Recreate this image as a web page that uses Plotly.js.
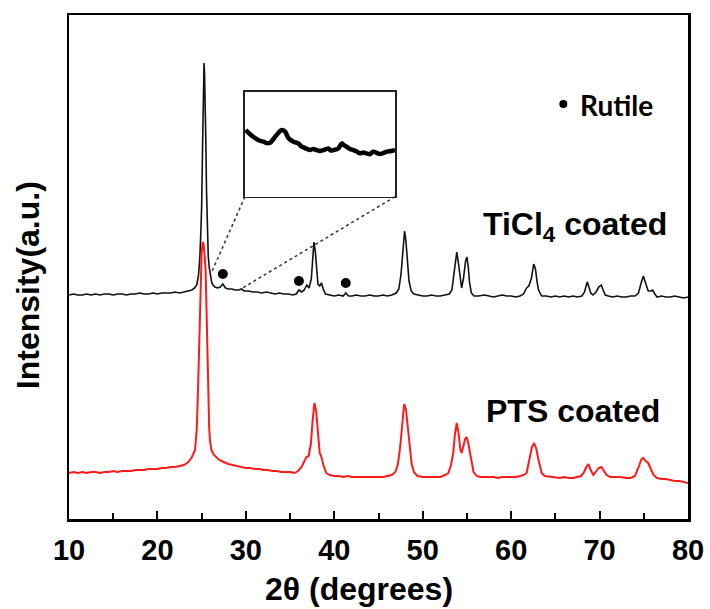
<!DOCTYPE html>
<html>
<head>
<meta charset="utf-8">
<script src="https://cdn.plot.ly/plotly-3.0.1.min.js"></script>
<style>html,body{margin:0;padding:0;background:#fff;}#chart{width:710px;height:609px;}</style>
</head>
<body>
<div id="chart"></div>
<script>
// 2-theta (degrees) and intensity (arbitrary units)
const tiX = [10,10.5,11,11.5,12,12.5,13,13.5,14,14.5,15,15.5,16,16.5,17,17.5,18,18.5,19,19.5,20,20.5,21,21.5,22,22.5,23,23.5,23.9,24.2,24.45,24.65,24.8,24.9,25.0,25.1,25.2,25.27,25.33,25.4,25.48,25.55,25.65,25.75,25.88,26.0,26.15,26.3,26.5,26.8,27.1,27.4,27.7,28.0,28.4,28.8,29.2,29.5,29.8,30.3,30.8,31.3,31.8,32.3,32.8,33.3,33.8,34.3,34.8,35.3,35.7,36.0,36.3,36.6,36.9,37.15,37.4,37.55,37.7,37.85,37.98,38.15,38.35,38.55,38.75,39.0,39.5,40,40.5,41.0,41.3,41.6,42,42.5,43,43.5,44,44.5,45,45.5,46,46.5,47,47.3,47.55,47.75,47.95,48.1,48.25,48.45,48.7,49.0,49.5,50,50.5,51,51.5,52,52.5,53.0,53.3,53.55,53.85,54.05,54.25,54.4,54.6,54.85,55.0,55.15,55.3,55.5,55.8,56.3,57,57.5,58,58.5,59,59.5,60,60.5,61,61.4,61.75,62.0,62.3,62.55,62.75,62.95,63.1,63.45,64,64.5,65,65.5,66,66.5,67,67.5,68,68.3,68.6,68.8,69.0,69.25,69.6,69.9,70.2,70.4,70.65,71,71.5,72,72.5,73,73.5,74,74.4,74.7,74.95,75.2,75.5,75.75,76.0,76.25,76.5,77,77.5,78,78.5,79,79.5,80];
const tiY = [224,225,224,224,225,224,225,224,225,225,224,225,225,224,225,225,226,225,225,226,225,226,226,226,227,226,227,228,229,231,234,244,262,285,312,370,429,456,445,420,375,329,290,262,250,242,236,234,232,231,232,235,231,230,230,229,229,230,228,228,227,227,226,227,226,225,226,225,225,224,225,229,227,229,234,231,240,258,277,268,250,235,233,236,230,225,224,223,224,223,226,223,223,224,223,223,224,223,223,224,223,224,226,230,245,268,288,278,258,238,228,225,224,223,223,224,223,223,224,225,229,245,267,255,237,231,240,258,262,252,236,226,223,223,224,223,222,223,224,223,223,222,223,225,231,233,241,255,250,236,229,223,223,222,223,222,223,222,223,222,223,227,237,232,226,224,227,232,234,229,224,223,222,223,222,222,223,223,226,236,243,236,228,228,229,225,222,223,222,222,223,222,221,222];

const ptsX = [10,10.5,11,11.5,12,12.5,13,13.5,14,14.5,15,15.5,16,16.5,17,17.5,18,18.5,19,19.5,20,20.5,21,21.5,22,22.5,23,23.5,23.9,24.25,24.45,24.6,24.7,24.8,24.9,25.0,25.12,25.22,25.35,25.45,25.55,25.65,25.75,25.85,25.95,26.1,26.4,26.7,27.0,27.5,28.0,28.5,29,29.5,30,30.5,31,31.5,32,32.5,33,33.5,34,34.5,35,35.5,35.9,36.3,36.6,36.85,37.1,37.35,37.55,37.75,37.95,38.15,38.35,38.55,38.8,39.1,39.5,40,40.5,41,41.5,42,42.5,43,43.5,44,44.5,45,45.5,46,46.5,46.9,47.2,47.45,47.7,47.9,48.1,48.3,48.5,48.75,49.0,49.4,50,50.5,51,51.5,52,52.5,52.9,53.2,53.45,53.65,53.85,54.05,54.25,54.4,54.6,54.8,54.97,55.15,55.35,55.55,55.75,56.1,56.5,57,57.5,58,58.5,59,59.5,60,60.5,61,61.4,61.75,62.1,62.35,62.6,62.85,63.05,63.25,63.45,63.8,64.5,65,65.5,66,66.5,67,67.5,67.9,68.2,68.5,68.75,69.0,69.3,69.6,69.9,70.2,70.5,70.8,71.2,71.8,72.3,73,73.5,74,74.2,74.5,74.75,74.95,75.2,75.5,75.8,76.1,76.5,77,77.5,78,78.5,79,79.5,80];
const ptsY = [46,47,46,47,46,47,47,46,47,47,48,47,48,48,48,49,49,49,50,50,50,51,51,52,52,53,54,57,62,69,90,132,170,216,248,266,277,275,262,249,210,166,125,92,78,69,64,61,59,57,55,54,53,52,51,51,50,50,49,49,48,48,47,47,47,46,48,52,58,62,63,75,98,116,108,85,66,62,53,46,44,43,43,42,43,42,42,42,42,42,42,42,42,43,44,47,55,72,98,115,110,92,72,55,47,43,42,42,42,42,42,44,46,54,66,85,96,86,70,66,72,80,82,76,66,55,47,43,42,42,42,42,41,42,42,42,42,43,44,46,62,72,76,70,61,52,46,43,42,42,41,42,41,41,42,43,46,52,55,49,44,47,51,52,48,44,42,42,42,41,41,43,47,54,60,61,58,56,50,44,41,40,40,39,38,38,37,36];

// rutile reflections marked with dots
const rutileX = [27.4, 36.0, 41.3];
const rutileY = [245, 238, 236];

// magnified background in the inset (2-theta 26-30)
const insetX = [26.02,26.12,26.22,26.35,26.49,26.58,26.67,26.76,26.84,26.92,26.98,27.07,27.16,27.29,27.42,27.5,27.56,27.65,27.73,27.82,27.91,28.0,28.09,28.16,28.22,28.29,28.36,28.43,28.49,28.58,28.64,28.71,28.8,28.89,28.98,29.07,29.15,29.24,29.33,29.42,29.5,29.6,29.7,29.78,29.9,30.0];
const insetY = [63.5,60,57.1,54,52.4,51,51.4,55,58.7,62,63.5,61.9,55.6,52.4,50.8,48,47.0,45.5,44.4,45.5,44.4,43.5,44.4,45.2,46.0,44.0,44.4,45,46.0,50.8,49,47.6,45.5,44.4,43,41.3,42,41.3,40.5,42.9,42,40.6,41.8,42.9,43.5,44.4];

const legendX = [65.9];
const legendY = [415];

const fontMain = 'Arial, "Liberation Sans", sans-serif';

const traces = [
  {x: tiX, y: tiY, type: 'scatter', mode: 'lines', line: {color: '#111111', width: 1.6}, hoverinfo: 'skip'},
  {x: ptsX, y: ptsY, type: 'scatter', mode: 'lines', line: {color: '#ff1a1a', width: 2}, hoverinfo: 'skip'},
  {x: rutileX, y: rutileY, type: 'scatter', mode: 'markers', marker: {color: '#000', size: 10}, hoverinfo: 'skip'},
  {x: legendX, y: legendY, type: 'scatter', mode: 'markers', marker: {color: '#000', size: 8}, hoverinfo: 'skip'},
  {x: insetX, y: insetY, xaxis: 'x2', yaxis: 'y2', type: 'scatter', mode: 'lines', line: {color: '#000', width: 4.5, shape: 'spline'}, hoverinfo: 'skip'}
];

const layout = {
  width: 710, height: 609,
  margin: {l: 69, r: 22, t: 15, b: 90},
  paper_bgcolor: '#fff', plot_bgcolor: '#fff',
  showlegend: false,
  font: {family: fontMain, color: '#000'},
  xaxis: {
    range: [10, 80], tickvals: [10,20,30,40,50,60,70,80],
    ticks: 'inside', ticklen: 8, tickwidth: 2, tickcolor: '#000',
    minor: {tickvals: [15,25,35,45,55,65,75], ticks: 'inside', ticklen: 6, tickwidth: 2, tickcolor: '#000'},
    showline: true, mirror: true, linecolor: '#000', linewidth: 2.5,
    showgrid: false, zeroline: false,
    tickfont: {family: fontMain, size: 29, weight: 'bold', color: '#000'},
    ticklabelstandoff: 4
  },
  yaxis: {
    range: [0, 504], showticklabels: false, ticks: '',
    showline: true, mirror: true, linecolor: '#000', linewidth: 2.5,
    showgrid: false, zeroline: false
  },
  xaxis2: {domain: [0.2843, 0.5267], anchor: 'y2', range: [26, 30], showticklabels: false, ticks: '',
    showline: true, mirror: true, linecolor: '#222', linewidth: 1.5, showgrid: false, zeroline: false},
  yaxis2: {domain: [0.6395, 0.8478], anchor: 'x2', range: [0, 100], showticklabels: false, ticks: '',
    showline: true, mirror: true, linecolor: '#222', linewidth: 1.5, showgrid: false, zeroline: false},
  shapes: [
    {type: 'line', xref: 'x', yref: 'y', x0: 29.9, y0: 322.3, x1: 26.14, y1: 247, line: {color: '#333', width: 1.5, dash: 'dot'}},
    {type: 'line', xref: 'x', yref: 'y', x0: 46.87, y0: 322.3, x1: 29.45, y1: 230, line: {color: '#333', width: 1.5, dash: 'dot'}}
  ],
  annotations: [
    {text: '<b>TiCl<sub>4</sub> coated</b>', x: 56.6, y: 293, xref: 'x', yref: 'y', xanchor: 'left', yanchor: 'middle', showarrow: false,
      font: {family: fontMain, size: 32, color: '#000'}},
    {text: '<b>PTS coated</b>', x: 56.9, y: 108, xref: 'x', yref: 'y', xanchor: 'left', yanchor: 'middle', showarrow: false,
      font: {family: fontMain, size: 32, color: '#000'}},
    {text: '<b>Rutile</b>', x: 67.6, y: 414, xref: 'x', yref: 'y', xanchor: 'left', yanchor: 'middle', showarrow: false,
      font: {family: 'Lato, "Open Sans", sans-serif', size: 28, color: '#000'}},
    {text: '<b>2θ (degrees)</b>', x: 0.4685, y: -0.1380, xref: 'paper', yref: 'paper', xanchor: 'center', yanchor: 'middle', showarrow: false,
      font: {family: fontMain, size: 32, color: '#000'}},
    {text: '<b>Intensity(a.u.)</b>', x: -0.0662, y: 0.464, xref: 'paper', yref: 'paper', xanchor: 'center', yanchor: 'middle', textangle: -90, showarrow: false,
      font: {family: fontMain, size: 32, color: '#000'}}
  ]
};

Plotly.newPlot('chart', traces, layout, {displayModeBar: false, staticPlot: true});
</script>
</body>
</html>
